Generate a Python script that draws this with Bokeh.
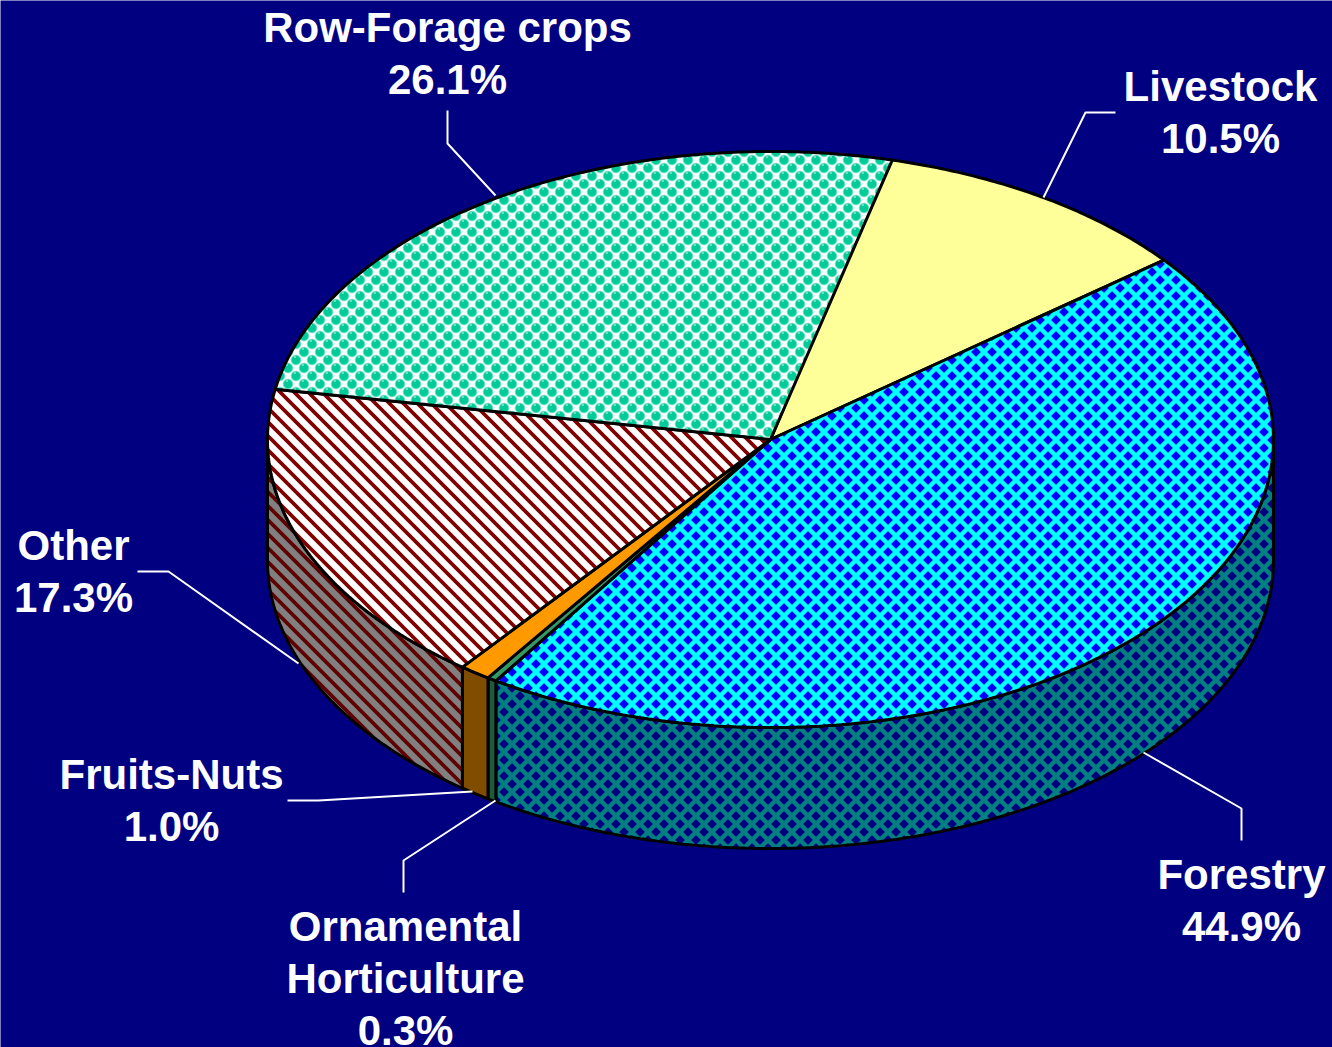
import base64
import struct
import zlib

import numpy as np
from bokeh.plotting import figure
from bokeh.core.properties import value
from bokeh.embed import file_html
from bokeh.models import ImageURLTexture
from bokeh.resources import INLINE

# data
categories = ["Livestock", "Forestry", "Ornamental Horticulture", "Fruits-Nuts", "Other", "Row-Forage crops"]
shares = [10.5, 44.9, 0.3, 1.0, 17.3, 26.1]

# styles
top_fill = ["#FFFF99", "#0000FF", "#339966", "#FF9900", "#FFFFFF", "#FFFFFF"]
top_hatch = [None, "diamond_top", None, None, "stripe_top", "bubbles"]
side_fill = ["#808000", "#008080", "#1F5A3D", "#804D00", "#808080", "#808080"]
side_hatch = [None, "diamond_side", None, None, "stripe_side", None]

# layout
CX, CY, RX, RY, DEPTH = 770, 439, 503, 288, 121
START = 13.65
BG = "#000080"

labels = [
    (["Row-Forage crops", "26.1%"], 447, [27, 79]),
    (["Livestock", "10.5%"], 1220, [86, 138]),
    (["Other", "17.3%"], 73, [545, 597]),
    (["Fruits-Nuts", "1.0%"], 171, [774, 826]),
    (["Ornamental", "Horticulture", "0.3%"], 405, [926, 978, 1030]),
    (["Forestry", "44.9%"], 1241, [874, 926]),
]
leaders = [
    ([447, 447, 495], [110, 143, 195]),
    ([1115, 1085, 1043], [112, 112, 197]),
    ([137, 168, 298], [571, 571, 663]),
    ([287, 318, 472], [800, 800, 791]),
    ([403, 403, 495], [892, 860, 800]),
    ([1241, 1241, 1143], [840, 808, 752]),
]


def png_url(rgb):
    """Encode an (h, w, 3) uint8 array as a PNG data URL."""
    h, w, _ = rgb.shape
    raw = b"".join(b"\x00" + rgb[r].tobytes() for r in range(h))

    def chunk(tag, data):
        return struct.pack(">I", len(data)) + tag + data + struct.pack(">I", zlib.crc32(tag + data))

    png = (b"\x89PNG\r\n\x1a\n" + chunk(b"IHDR", struct.pack(">IIBBBBB", w, h, 8, 2, 0, 0, 0))
           + chunk(b"IDAT", zlib.compress(raw)) + chunk(b"IEND", b""))
    return "data:image/png;base64," + base64.b64encode(png).decode()


def grid(n, ss=4):
    c = (np.arange(n * ss) + .5) / ss
    return np.meshgrid(c, c)


def finish(layers, n, ss=4):
    """layers: list of (mask, colour) painted in order, then box-averaged to n x n."""
    img = np.zeros((n * ss, n * ss, 3))
    for mask, col in layers:
        img[mask] = col
    img = img.reshape(n, ss, n, ss, 3).mean(axis=(1, 3))
    return png_url(img.round().astype(np.uint8))


def diamonds(bg, fg, n=16, half=4.8):
    x, y = grid(n)
    dx, dy = np.minimum(x, n - x), np.minimum(y, n - y)
    m = (dx + dy < half) | (np.abs(x - n / 2) + np.abs(y - n / 2) < half)
    return finish([(np.ones_like(m), bg), (m, fg)], n)


def stripes(bg, fg, n=14, width=5.4):
    x, y = grid(n)
    d = (x - y) % n
    return finish([(np.ones_like(d, bool), bg), (np.minimum(d, n - d) < width / 2, fg)], n)


def bubbles(n=16, r=5.3):
    x, y = grid(n)
    d = np.minimum(np.hypot(np.minimum(x, n - x), np.minimum(y, n - y)),
                   np.hypot(x - n / 2, y - n / 2))
    sx, sy = (x + 1) % n, (y + 3) % n
    spec = np.minimum(np.hypot(np.minimum(sx, n - sx), np.minimum(sy, n - sy)),
                      np.hypot(sx - n / 2, sy - n / 2))
    return finish([(np.ones_like(d, bool), (255, 255, 255)), (d < r, (120, 228, 200)),
                    (d < r - 1.0, (0, 204, 153)), (spec < 1.1, (110, 225, 195))], n)


extra = {
    "diamond_top": ImageURLTexture(url=diamonds((0, 255, 255), (0, 0, 255))),
    "diamond_side": ImageURLTexture(url=diamonds((0, 128, 128), (0, 0, 128))),
    "stripe_top": ImageURLTexture(url=stripes((255, 255, 255), (128, 0, 0))),
    "stripe_side": ImageURLTexture(url=stripes((128, 128, 128), (96, 0, 0))),
    "bubbles": ImageURLTexture(url=bubbles()),
}

W, H = 1332, 1047
p = figure(width=W, height=H, x_range=(0, W), y_range=(H, 0),
           output_backend="svg", toolbar_location=None, min_border=0,
           background_fill_color=BG, border_fill_color=BG, outline_line_color=None)
p.axis.visible = False
p.grid.visible = False


def rim(a0, a1, dy=0.0):
    t = np.radians(np.linspace(a0, a1, max(int(abs(a1 - a0) * 2), 2)))
    return CX + RX * np.sin(t), CY + dy - RY * np.cos(t)


def hatch_args(pattern):
    if pattern is None:
        return {}
    return dict(hatch_pattern=pattern, hatch_extra=extra)


edges = START + np.cumsum([0.0] + shares) * 360.0 / 100.0

# side walls (only the part of the rim that faces the viewer)
for i in range(len(shares)):
    a0, a1 = max(edges[i], 90), min(edges[i + 1], 270)
    if a1 <= a0:
        continue
    xt, yt = rim(a0, a1)
    xb, yb = rim(a1, a0, DEPTH)
    xs, ys = np.r_[xt, xb], np.r_[yt, yb]
    p.patch(xs, ys, fill_color=side_fill[i], line_color=None, **hatch_args(side_hatch[i]))
    p.line(np.r_[xs, xs[0]], np.r_[ys, ys[0]], line_color="black", line_width=3)

# top faces
for i in range(len(shares)):
    xt, yt = rim(edges[i], edges[i + 1])
    xs, ys = np.r_[CX, xt], np.r_[CY, yt]
    p.patch(xs, ys, fill_color=top_fill[i], line_color=None, **hatch_args(top_hatch[i]))
    p.line(np.r_[xs, xs[0]], np.r_[ys, ys[0]], line_color="black", line_width=3)

for xs, ys in leaders:
    p.line(xs, ys, line_color="white", line_width=2)

for lines, x, ys in labels:
    p.text([x] * len(lines), ys, text=lines, text_color="white", text_align="center",
           text_baseline="middle", text_font=value("Liberation Sans"),
           text_font_style="bold", text_font_size="42px")

open("out.html", "w").write(file_html(p, INLINE))
